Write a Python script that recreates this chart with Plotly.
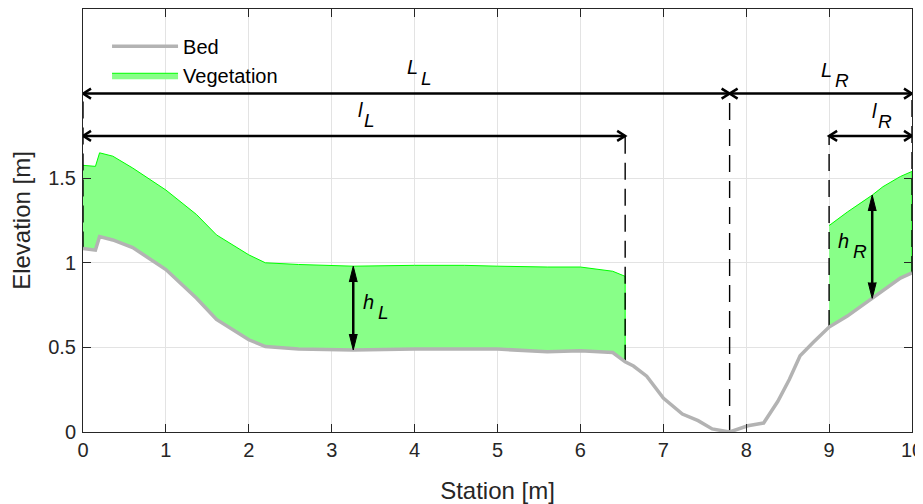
import plotly.graph_objects as go

# ---------------- data ----------------
station = [0.0, 0.15, 0.2, 0.36, 0.6, 1.0, 1.37, 1.61, 2.0, 2.2, 2.6, 3.26, 4.0, 4.6, 5.0,
           5.6, 6.0, 6.39, 6.54, 6.64, 6.8, 7.0, 7.23, 7.42, 7.59, 7.8, 8.02, 8.21, 8.38,
           8.52, 8.65, 8.81, 9.0, 9.22, 9.52, 9.65, 9.86, 10.0]
bed = [1.085, 1.075, 1.155, 1.135, 1.09, 0.96, 0.79, 0.665, 0.545, 0.505, 0.49, 0.485, 0.49,
       0.49, 0.49, 0.475, 0.48, 0.47, 0.415, 0.39, 0.33, 0.2, 0.106, 0.067, 0.018, 0.0,
       0.037, 0.053, 0.18, 0.31, 0.45, 0.53, 0.62, 0.685, 0.79, 0.84, 0.91, 0.94]

veg_left_station = [0.0, 0.15, 0.2, 0.36, 0.6, 1.0, 1.37, 1.61, 2.0, 2.2, 2.6, 3.26, 4.0,
                    4.6, 5.0, 5.6, 6.0, 6.39, 6.54]
veg_left_top = [1.576, 1.57, 1.65, 1.63, 1.56, 1.43, 1.285, 1.165, 1.047, 1.0, 0.99, 0.98,
                0.985, 0.985, 0.98, 0.975, 0.975, 0.95, 0.92]
veg_right_station = [9.0, 9.22, 9.52, 9.65, 9.86, 10.0]
veg_right_top = [1.22, 1.30, 1.40, 1.45, 1.51, 1.54]

# widths (station of boundaries)
x_left, x_right = 0.0, 10.0
L_L_end = 7.8        # end of left floodplain width L_L
l_L_end = 6.54       # end of left vegetation width l_L
l_R_start = 9.0      # start of right vegetation width l_R
L_level, l_level = 2.0, 1.75
h_L_station, h_R_station = 3.26, 9.52

# labels: main letter, subscript, station, elevation (cap centre)
label_main = ["L", "L", "l", "l", "h", "h"]
label_sub = ["L", "R", "L", "R", "L", "R"]
label_x = [3.90, 8.89, 3.30, 9.51, 3.36, 9.09]
label_y = [2.155, 2.14, 1.905, 1.90, 0.77, 1.13]

x_ticks = list(range(0, 11))
y_ticks = [0, 0.5, 1, 1.5]
y_tick_text = ["0", "0.5", "1", "1.5"]

# ---------------- layout constants ----------------
# the page body adds an 8 px offset, so the figure origin sits 8 px right and down
W, H = 923, 496
ML, MR, MT, MB = 75, 19, 0, 71
XR = [0, 10]
YR = [0, 2.5]
PX_X = (W - ML - MR) / (XR[1] - XR[0])
PX_Y = (H - MT - MB) / (YR[1] - YR[0])

FONT = "Liberation Sans, Arial, Helvetica, sans-serif"
AX = "#262626"
bed_of = dict(zip(station, bed))

fig = go.Figure()

# vegetation patches
def veg_poly(xs, tops):
    bottoms = [bed_of[s] for s in xs]
    return xs + xs[::-1], bottoms + tops[::-1]

vx, vy = veg_poly(veg_left_station, veg_left_top)
fig.add_trace(go.Scatter(x=vx, y=vy, mode="lines", fill="toself", fillcolor="#88ff88",
                         line=dict(color="#00ff00", width=1), name="Vegetation",
                         legendgroup="veg", legendrank=2, hoverinfo="skip"))
vx, vy = veg_poly(veg_right_station, veg_right_top)
fig.add_trace(go.Scatter(x=vx, y=vy, mode="lines", fill="toself", fillcolor="#88ff88",
                         line=dict(color="#00ff00", width=1), name="Vegetation",
                         legendgroup="veg", showlegend=False, hoverinfo="skip"))

# dashed verticals
dash_x, dash_y = [], []
for s, top in [(x_left, L_level), (l_L_end, l_level), (L_L_end, L_level),
               (l_R_start, l_level), (x_right, L_level)]:
    dash_x += [s, s, None]
    dash_y += [bed_of[s], top, None]
fig.add_trace(go.Scatter(x=dash_x, y=dash_y, mode="lines", showlegend=False,
                         line=dict(color="black", width=1.4, dash="17px,9px"), hoverinfo="skip"))

# bed line
fig.add_trace(go.Scatter(x=station, y=bed, mode="lines", name="Bed", legendrank=1,
                         line=dict(color="#b3b3b3", width=3.5), hoverinfo="skip"))

# horizontal double arrows with open heads
dx, dy = 8 / PX_X, 5 / PX_Y
ax_, ay_ = [], []
for x0, x1, y in [(x_left, L_L_end, L_level), (L_L_end, x_right, L_level),
                  (x_left, l_L_end, l_level), (l_R_start, x_right, l_level)]:
    ax_ += [x0, x1, None]
    ay_ += [y, y, None]
    ax_ += [x0 + dx, x0, x0 + dx, None, x1 - dx, x1, x1 - dx, None]
    ay_ += [y + dy, y, y - dy, None, y + dy, y, y - dy, None]
fig.add_trace(go.Scatter(x=ax_, y=ay_, mode="lines", showlegend=False,
                         line=dict(color="black", width=2.5), hoverinfo="skip"))

# vertical double arrows with filled heads
hw, hl = 4 / PX_X, 16 / PX_Y
for s, top_list, st_list in [(h_L_station, veg_left_top, veg_left_station),
                             (h_R_station, veg_right_top, veg_right_station)]:
    y0 = bed_of[s]
    y1 = top_list[st_list.index(s)]
    fig.add_trace(go.Scatter(x=[s, s], y=[y0 + hl * 0.6, y1 - hl * 0.6], mode="lines",
                             showlegend=False, line=dict(color="black", width=2.5),
                             hoverinfo="skip"))
    fig.add_trace(go.Scatter(x=[s - hw, s, s + hw, None, s - hw, s, s + hw],
                             y=[y1 - hl, y1, y1 - hl, None, y0 + hl, y0, y0 + hl],
                             mode="lines", fill="toself", fillcolor="black",
                             line=dict(color="black", width=1), showlegend=False,
                             hoverinfo="skip"))

# labels
sub_shift = {"L": 14, "l": 6, "h": 15}
for m, sb, x, y in zip(label_main, label_sub, label_x, label_y):
    fig.add_annotation(x=x, y=y, text=f"<i>{m}</i>", showarrow=False, xanchor="left",
                       yanchor="middle", borderpad=0,
                       font=dict(family=FONT, size=20, color="black"))
    fig.add_annotation(x=x, y=y, text=f"<i>{sb}</i>", showarrow=False, xanchor="left",
                       yanchor="middle", borderpad=0, xshift=sub_shift[m], yshift=-11,
                       font=dict(family=FONT, size=19, color="black"))

fig.update_layout(
    width=W, height=H, autosize=False,
    margin=dict(l=ML, r=MR, t=MT, b=MB),
    paper_bgcolor="white", plot_bgcolor="white",
    font=dict(family=FONT, size=20, color=AX),
    showlegend=True,
    legend=dict(x=0.029, y=0.958, xanchor="left", yanchor="top", bgcolor="rgba(0,0,0,0)",
                itemwidth=66, font=dict(size=20, color="black"), traceorder="normal",
                tracegroupgap=0),
    xaxis=dict(range=XR, tickvals=x_ticks, ticks="inside", ticklen=8, tickcolor=AX,
               showline=True, linecolor=AX, linewidth=1, mirror="ticks",
               showgrid=True, gridcolor="#e3e3e3", gridwidth=1, zeroline=False,
               ticklabeloverflow="allow",
               title=dict(text="Station [m]", standoff=26), fixedrange=True),
    yaxis=dict(range=YR, tickvals=y_ticks, ticktext=y_tick_text, ticks="inside",
               ticklen=8, tickcolor=AX, showline=True, linecolor=AX, linewidth=1,
               mirror="ticks", showgrid=True, gridcolor="#e3e3e3", gridwidth=1,
               ticklabelstandoff=2,
               zeroline=False, title=dict(text="Elevation [m]", standoff=21),
               fixedrange=True),
)

fig.write_html("out.html")
